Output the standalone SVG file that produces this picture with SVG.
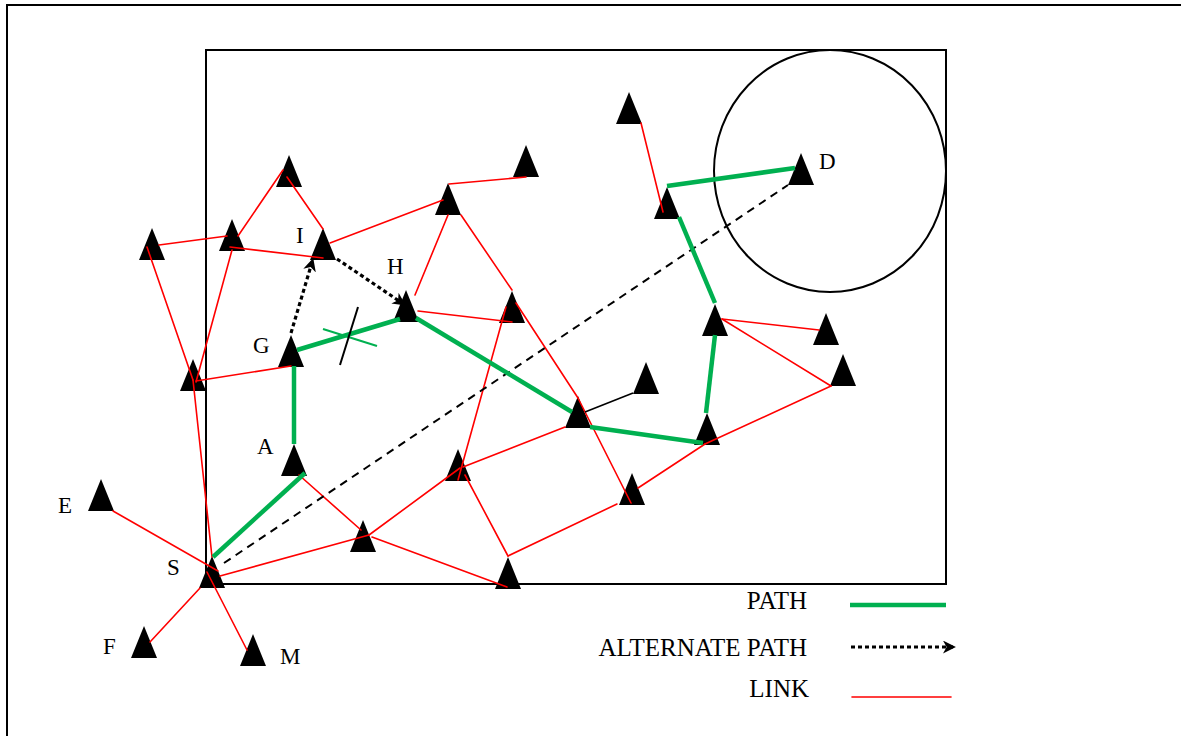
<svg xmlns="http://www.w3.org/2000/svg" xmlns:xlink="http://www.w3.org/1999/xlink" width="1181" height="736" viewBox="0 0 1181 736">
<style>
.frame{fill:none;stroke:#000;stroke-width:2}
.lbl{font-family:"Liberation Serif","Times New Roman",serif;font-size:23px;fill:#000}
.leg{font-family:"Liberation Serif","Times New Roman",serif;font-size:25px;fill:#000;text-anchor:end}
.link{stroke:#ff0000;stroke-width:1.6;fill:none;stroke-linecap:round}
.path{stroke:#00b050;stroke-width:4.5;fill:none}
.blk{stroke:#000;stroke-width:1.6;fill:none}
.dash{stroke:#000;stroke-width:2;stroke-dasharray:8,6;fill:none}
.alt{stroke:#000;stroke-width:3.2;stroke-dasharray:4,3;fill:none}
.tri{fill:#000}
</style>
<defs>
<path id="tri" d="M0,0 L13,32 L-13,32 Z"/>
<marker id="arr" viewBox="0 0 14 14" refX="13" refY="7" markerWidth="13" markerHeight="13" orient="auto" markerUnits="userSpaceOnUse">
<path d="M0,0 L14,7 L0,14 L4,7 Z" fill="#000"/>
</marker>
</defs>
<rect width="1181" height="736" fill="#fff"/>
<path class="frame" d="M7,740 V5 H1185"/>
<rect class="frame" x="206" y="50" width="740" height="534"/>
<ellipse class="frame" cx="830" cy="171" rx="116" ry="121"/>

<g id="nodes">
<g id="n1"><use href="#tri" class="tri" x="289" y="155"/></g>
<g id="n2"><use href="#tri" class="tri" x="232" y="219"/></g>
<g id="n3"><use href="#tri" class="tri" x="152" y="228"/></g>
<g id="nI"><use href="#tri" class="tri" x="323" y="228"/><text class="lbl" x="296" y="243">I</text></g>
<g id="nH"><use href="#tri" class="tri" x="406" y="290"/><text class="lbl" x="387" y="274">H</text></g>
<g id="nG"><use href="#tri" class="tri" x="291" y="335"/><text class="lbl" x="253" y="353">G</text></g>
<g id="n7"><use href="#tri" class="tri" x="193" y="359"/></g>
<g id="n8"><use href="#tri" class="tri" x="526" y="145"/></g>
<g id="n9"><use href="#tri" class="tri" x="448" y="183"/></g>
<g id="n10"><use href="#tri" class="tri" x="512" y="291"/></g>
<g id="n11"><use href="#tri" class="tri" x="629" y="92"/></g>
<g id="n12"><use href="#tri" class="tri" x="667" y="187"/></g>
<g id="nD"><use href="#tri" class="tri" x="801" y="153"/><text class="lbl" x="819" y="169">D</text></g>
<g id="n14"><use href="#tri" class="tri" x="715" y="304"/></g>
<g id="n15"><use href="#tri" class="tri" x="826" y="313"/></g>
<g id="n16"><use href="#tri" class="tri" x="843" y="354"/></g>
<g id="n17"><use href="#tri" class="tri" x="707" y="413"/></g>
<g id="n18"><use href="#tri" class="tri" x="646" y="362"/></g>
<g id="n19"><use href="#tri" class="tri" x="578" y="396"/></g>
<g id="n20"><use href="#tri" class="tri" x="458" y="449"/></g>
<g id="n21"><use href="#tri" class="tri" x="363" y="520"/></g>
<g id="n22"><use href="#tri" class="tri" x="508" y="557"/></g>
<g id="n23"><use href="#tri" class="tri" x="632" y="473"/></g>
<g id="nA"><use href="#tri" class="tri" x="294" y="444"/><text class="lbl" x="257" y="454">A</text></g>
<g id="nE"><use href="#tri" class="tri" x="101" y="479"/><text class="lbl" x="58" y="513">E</text></g>
<g id="nS"><use href="#tri" class="tri" x="212" y="556"/><text class="lbl" x="167" y="575">S</text></g>
<g id="nF"><use href="#tri" class="tri" x="144" y="626"/><text class="lbl" x="103" y="654">F</text></g>
<g id="nM"><use href="#tri" class="tri" x="253" y="634"/><text class="lbl" x="280" y="664">M</text></g>
</g>

<g id="connectors">
<line class="link" x1="283" y1="170" x2="238" y2="236"/>
<line class="link" x1="287" y1="177" x2="323" y2="229"/>
<line class="link" x1="330" y1="243" x2="443" y2="200"/>
<line class="link" x1="159" y1="245" x2="227" y2="236"/>
<line class="link" x1="230" y1="247" x2="323" y2="258"/>
<line class="link" x1="147" y1="247" x2="193" y2="380"/>
<line class="link" x1="232" y1="250" x2="196" y2="382"/>
<line class="link" x1="196" y1="381" x2="291" y2="366"/>
<line class="link" x1="193" y1="380" x2="212" y2="557"/>
<line class="link" x1="449" y1="184" x2="526" y2="177"/>
<line class="link" x1="448" y1="215" x2="415" y2="295"/>
<line class="link" x1="461" y1="215" x2="512" y2="290"/>
<line class="link" x1="418" y1="311" x2="512" y2="322"/>
<line class="link" x1="506" y1="307" x2="458" y2="480"/>
<line class="link" x1="516" y1="303" x2="578" y2="398"/>
<line class="link" x1="578" y1="398" x2="631" y2="503"/>
<line class="link" x1="641" y1="123" x2="663" y2="212"/>
<line class="link" x1="722" y1="319" x2="819" y2="330"/>
<line class="link" x1="722" y1="319" x2="831" y2="386"/>
<line class="link" x1="831" y1="386" x2="705" y2="444"/>
<line class="link" x1="705" y1="444" x2="638" y2="488"/>
<line class="link" x1="565" y1="427" x2="463" y2="467"/>
<line class="link" x1="465" y1="475" x2="508" y2="556"/>
<line class="link" x1="460" y1="468" x2="369" y2="535"/>
<line class="link" x1="220" y1="576" x2="369" y2="535"/>
<line class="link" x1="372" y1="537" x2="507" y2="587"/>
<line class="link" x1="508" y1="556" x2="617" y2="504"/>
<line class="link" x1="299" y1="475" x2="361" y2="530"/>
<line class="link" x1="113" y1="511" x2="218" y2="571"/>
<line class="link" x1="150" y1="642" x2="200" y2="588"/>
<line class="link" x1="247" y1="650" x2="207" y2="572"/>
<line class="blk" x1="585" y1="412" x2="633" y2="393"/>
<line class="dash" x1="224" y1="563" x2="788" y2="185"/>
<line class="path" x1="213" y1="557" x2="305" y2="473"/>
<line class="path" x1="294" y1="444" x2="294" y2="366"/>
<line class="path" x1="297" y1="350" x2="400" y2="319"/>
<line class="path" x1="416" y1="318" x2="572" y2="412"/>
<line class="path" x1="590" y1="427" x2="703" y2="443"/>
<line class="path" x1="706" y1="413" x2="715" y2="335"/>
<line class="path" x1="715" y1="303" x2="679" y2="217"/>
<line class="path" x1="667" y1="186" x2="795" y2="168"/>
<line stroke="#00b050" stroke-width="2" x1="323" y1="329" x2="377" y2="346"/>
<line stroke="#000" stroke-width="2" x1="358" y1="307" x2="340" y2="365"/>
<line class="alt" x1="291" y1="333" x2="313" y2="259" marker-end="url(#arr)"/>
<line class="alt" x1="337" y1="259" x2="405" y2="305" marker-end="url(#arr)"/>
</g>

<g id="legend">
<text class="leg" x="807" y="609">PATH</text>
<line class="path" x1="850" y1="605" x2="946" y2="605"/>
<text class="leg" x="807" y="656">ALTERNATE PATH</text>
<line class="alt" x1="851" y1="647" x2="955" y2="647" marker-end="url(#arr)"/>
<text class="leg" x="809" y="697">LINK</text>
<line class="link" x1="852" y1="697" x2="951" y2="697"/>
</g>
</svg>
